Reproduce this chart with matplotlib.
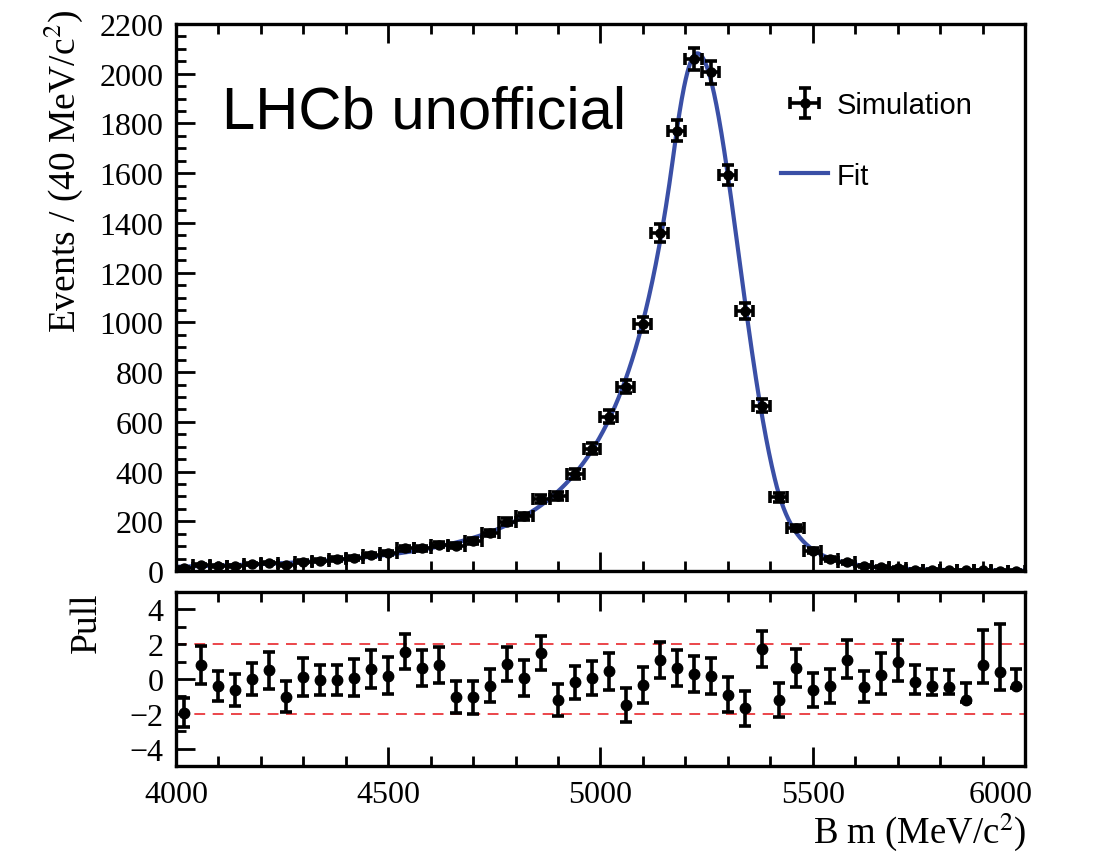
import numpy as np
import matplotlib
matplotlib.use("Agg")
import matplotlib.pyplot as plt
from matplotlib.ticker import MultipleLocator, FixedLocator, FuncFormatter
from matplotlib.transforms import ScaledTranslation

# 50 bins of 40 MeV between 4000 and 6000
bin_edges = np.arange(4000, 6001, 40)
counts = [12, 25, 21, 21, 28, 32, 25, 37, 41, 48,
          52, 64, 71, 91, 91, 106, 102, 121, 153, 199,
          220, 290, 301, 391, 492, 621, 742, 992, 1359, 1770,
          2060, 2005, 1593, 1044, 665, 296, 173, 82, 48, 35,
          19, 15, 11, 6, 5, 4, 3, 3, 2, 2]

pulls = [-1.94, 0.80, -0.42, -0.63, 0.00, 0.51, -1.01, 0.13, -0.06, -0.06,
         0.08, 0.57, 0.19, 1.58, 0.63, 0.80, -1.05, -1.05, -0.38, 0.86,
         0.06, 1.49, -1.20, -0.19, 0.06, 0.44, -1.49, -0.34, 1.10, 0.63,
         0.29, 0.19, -0.90, -1.68, 1.71, -1.20, 0.63, -0.63, -0.38, 1.09,
         -0.44, 0.23, 0.95, -0.19, -0.42, -0.48, -1.20, 0.80, 0.38, -0.42]
pull_err_up = [0.83, 1.11, 0.87, 0.90, 0.92, 1.07, 0.90, 1.09, 0.88, 0.88,
               1.05, 1.07, 1.05, 1.01, 1.03, 1.05, 0.92, 0.95, 0.95, 0.99,
               1.01, 1.00, 0.94, 0.93, 0.99, 1.06, 1.00, 1.02, 1.02, 1.02,
               1.03, 1.04, 1.02, 1.00, 1.04, 0.97, 1.07, 0.95, 0.97, 1.16,
               0.90, 1.28, 1.30, 0.97, 0.97, 0.97, 0.97, 2.02, 2.78, 0.97]
pull_err_down = [0.83, 1.11, 0.87, 0.90, 0.92, 1.07, 0.90, 1.09, 0.88, 0.88,
                 1.05, 1.07, 1.05, 1.01, 1.03, 1.05, 0.92, 0.95, 0.95, 0.99,
                 1.01, 1.00, 0.94, 0.93, 0.99, 1.06, 1.00, 1.02, 1.02, 1.02,
                 1.03, 1.04, 1.02, 1.00, 1.04, 0.97, 1.07, 0.95, 0.97, 1.05,
                 0.90, 1.10, 1.07, 0.69, 0.50, 0.40, 0.10, 1.05, 1.03, 0.10]

# double sided crystal ball fit result
fit_norm = 2082.0
fit_mu = 5228.0
fit_sigma_l = 85.0
fit_sigma_r = 98.3
fit_alpha_l = 0.650
fit_n_l = 3.77
fit_alpha_r = 1.876
fit_n_r = 4.46


def dscb(m):
    t = np.where(m < fit_mu, (m - fit_mu) / fit_sigma_l, (m - fit_mu) / fit_sigma_r)
    out = np.exp(-0.5 * t**2)
    lo = t < -fit_alpha_l
    out[lo] = np.exp(-0.5 * fit_alpha_l**2) * (1 + fit_alpha_l / fit_n_l * (-t[lo] - fit_alpha_l))**(-fit_n_l)
    hi = t > fit_alpha_r
    out[hi] = np.exp(-0.5 * fit_alpha_r**2) * (1 + fit_alpha_r / fit_n_r * (t[hi] - fit_alpha_r))**(-fit_n_r)
    return fit_norm * out


def minus(v):
    return f"{v:g}".replace('-', '\u2212')


centers = 0.5 * (bin_edges[1:] + bin_edges[:-1])
half_width = 0.5 * np.diff(bin_edges)
counts = np.array(counts, float)

plt.rcParams['font.family'] = 'Liberation Serif'
plt.rcParams['mathtext.fontset'] = 'stix'
fig = plt.figure(figsize=(10.98, 8.53), dpi=100)
ax1 = fig.add_axes([0.1603, 0.3294, 0.7732, 0.6413])
ax2 = fig.add_axes([0.1603, 0.1008, 0.7732, 0.2040])

fit_col = '#3a4fa6'
mm = np.linspace(4000, 6000, 1500)
ax1.plot(mm, dscb(mm), color=fit_col, lw=3.0, label='Fit', zorder=2)
ax1.errorbar(centers, counts, yerr=np.sqrt(counts), xerr=half_width, fmt='o', color='black',
             ms=6.5, elinewidth=2.6, capsize=4, capthick=2.6, label='Simulation', zorder=3)
ax1.set_xlim(4000, 6000)
ax1.set_ylim(0, 2200)
ax1.yaxis.set_major_locator(MultipleLocator(200))
ax1.yaxis.set_minor_locator(MultipleLocator(50))
ax1.xaxis.set_major_locator(MultipleLocator(500))
ax1.xaxis.set_minor_locator(MultipleLocator(100))

ax1.text(0.054, 0.89, 'LHCb unofficial', transform=ax1.transAxes, fontsize=43,
         family='Liberation Sans', ha='left', va='top')
h, l = ax1.get_legend_handles_labels()
ax1.legend(h[::-1], l[::-1], loc='upper left', bbox_to_anchor=(0.713, 0.877), frameon=False,
           prop={'family': 'Liberation Sans', 'size': 21}, handlelength=1.6,
           handletextpad=0.3, labelspacing=1.45, borderpad=0, borderaxespad=0)

ax2.errorbar(centers, pulls, yerr=[pull_err_down, pull_err_up], fmt='o', color='black',
             ms=7.5, elinewidth=2.6, capsize=4.5, capthick=2.6, zorder=3)
for lvl in (2, -2):
    ax2.axhline(lvl, color='#e8262b', lw=1.2, ls=(0, (6.5, 4.5)), zorder=1)
ax2.set_xlim(4000, 6000)
ax2.set_ylim(-5, 5)
ax2.xaxis.set_major_locator(MultipleLocator(500))
ax2.xaxis.set_minor_locator(MultipleLocator(100))
# last x label is drawn by hand, shifted inside the canvas as in the original
ax2.xaxis.set_major_formatter(FuncFormatter(lambda v, p: '' if v >= 6000 else f"{v:g}"))
ax2.yaxis.set_major_locator(FixedLocator([-4, 0, 4]))
ax2.yaxis.set_minor_locator(FixedLocator([-3, -2, -1, 1, 2, 3]))
ax2.yaxis.set_major_formatter(FuncFormatter(lambda v, p: minus(v)))
ax2.yaxis.set_minor_formatter(FuncFormatter(lambda v, p: minus(v) if abs(v) == 2 else ''))

for ax in (ax1, ax2):
    for s in ax.spines.values():
        s.set_linewidth(2.4)
    ax.tick_params(axis='both', which='both', direction='in', width=2.0,
                   top=True, bottom=True, left=True, right=False, labelsize=23)
    ax.tick_params(which='major', length=14)
    ax.tick_params(which='minor', length=7)
    ax.tick_params(axis='y', which='both', pad=9)
    ax.tick_params(axis='x', which='both', pad=10)
ax1.tick_params(axis='x', which='both', labelbottom=False)

tr, va, ha = ax2.get_xaxis_text1_transform(10)
ax2.text(6000, 0, '6000', transform=tr + ScaledTranslation(-0.24, 0, fig.dpi_scale_trans),
         va=va, ha=ha, fontsize=23)

fig.text(63 / 1098, 1 - 10 / 853, 'Events / (40 MeV/c$^{2}$)', rotation=90, fontsize=27,
         ha='center', va='top')
fig.text(87 / 1098, 1 - 593 / 853, 'Pull', rotation=90, fontsize=27, ha='center', va='top')
fig.text(1026 / 1098, 1 - 843 / 853, 'B m (MeV/c$^{2}$)', fontsize=26.5, ha='right', va='baseline')

fig.savefig('out.png', dpi=100, facecolor='white')
